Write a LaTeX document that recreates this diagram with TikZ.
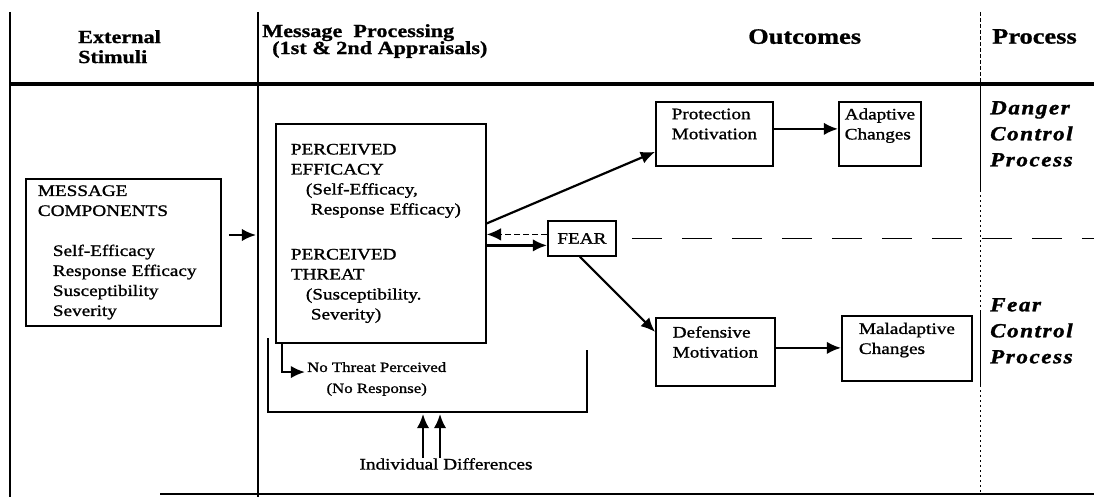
\documentclass[tikz,border=0pt]{standalone}
\usepackage{fontspec}
\setmainfont{Liberation Serif}[FakeStretch=1.2, UprightFeatures={FakeBold=1.2}, BoldFeatures={FakeBold=1}]
\newfontfamily\procfont{Liberation Serif}[FakeStretch=1.15, LetterSpace=8, BoldItalicFeatures={FakeBold=1.5}]
\usetikzlibrary{arrows.meta, positioning}

\begin{document}
\begin{tikzpicture}[x=1pt, y=-1pt, every node/.style={inner sep=0pt, align=left}]
    \tikzset{
      box/.style={draw, line width=1.8pt, anchor=north west, inner sep=5pt, font=\fontsize{16}{20}\selectfont},
      head/.style={anchor=north west, font=\fontsize{18.5}{20}\selectfont\bfseries},
      proc/.style={anchor=north west, font=\procfont\fontsize{20}{26}\selectfont\bfseries\itshape},
      arr/.style={line width=2.2pt, -{Latex[length=5mm, width=4.4mm]}},
      divider/.style={line width=1.4pt}
    }
    \useasboundingbox (0,0) rectangle (1094,497);

    % frame and column rules
    \draw[divider] (10,12) -- (10,497);
    \draw[divider] (258,12) -- (258,497);
    \draw[line width=3.2pt] (10,84) -- (1094,84);
    \draw[divider] (160,494) -- (1094,494);
    \draw[line width=1pt, dash pattern=on 4pt off 2pt] (980,12) -- (980,84);
    \draw[line width=1pt] (980,84) -- (980,190);
    \draw[line width=1pt, dash pattern=on 2pt off 3pt] (980,190) -- (980,310);
    \draw[line width=1pt] (980,310) -- (980,385);
    \draw[line width=1pt, dash pattern=on 2pt off 3pt] (980,385) -- (980,494);

    % column headings
    \node[head] (ext) at (78,30) {External\\Stimuli};
    \node[head, font=\fontsize{18.5}{17}\selectfont\bfseries] (mp) at (262,24) {Message\ \ Processing\\\hspace*{10pt}(1st \& 2nd Appraisals)};
    \node[head, font=\fontsize{22}{22}\selectfont\bfseries] (out) at (748,29) {Outcomes};
    \node[head, font=\fontsize{22}{22}\selectfont\bfseries] (prc) at (992,29) {Process};

    % boxes
    \node[box, text width=171pt, minimum height=147pt, inner xsep=12pt] (msg) at (25,178)
      {MESSAGE\\COMPONENTS\\[20pt]\hspace*{15pt}Self-Efficacy\\\hspace*{15pt}Response Efficacy\\\hspace*{15pt}Susceptibility\\\hspace*{15pt}Severity};
    \node[box, text width=180pt, minimum height=219pt, inner xsep=15pt] (perc) at (275,123)
      {PERCEIVED\\EFFICACY\\\hspace*{15pt}(Self-Efficacy,\\\hspace*{20pt}Response Efficacy)\\[25pt]PERCEIVED\\THREAT\\\hspace*{15pt}(Susceptibility.\\\hspace*{20pt}Severity)};
    \node[box, minimum width=68pt, minimum height=35pt, align=center] (fear) at (547,220) {FEAR};
    \node[box, minimum width=117pt, minimum height=64pt] (prot) at (655,101) {Protection\\Motivation\\\mbox{}};
    \node[box, minimum width=82pt, minimum height=64pt] (adapt) at (838,101) {Adaptive\\Changes\\\mbox{}};
    \node[box, minimum width=119pt, minimum height=68pt] (def) at (655,317) {Defensive\\Motivation\\\mbox{}};
    \node[box, minimum width=130pt, minimum height=65pt] (mal) at (841,315) {Maladaptive\\Changes\\\mbox{}};

    \node[proc] (dcp) at (990,101) {Danger\\Control\\Process};
    \node[proc] (fcp) at (990,298) {Fear\\Control\\Process};

    \node[font=\fontsize{14}{21}\selectfont, align=center, anchor=north west, inner sep=2pt] (nothreat) at (305,360) {No Threat Perceived\\(No Response)};
    \node[font=\fontsize{16}{20}\selectfont, anchor=north] (indiv) at (446,458) {Individual Differences};

    \coordinate (stimtip) at (256,235);
    \coordinate (brk) at (446,414);
    \coordinate (rightedge) at (1094,236);

    % connectors
    \draw[arr] (msg.east |- stimtip) ++(7,0) -- (stimtip);
    \draw[arr] ([yshift=10pt]perc.east) -- ([yshift=-18pt]prot.west);
    \draw[arr, line width=1.4pt, dash pattern=on 6pt off 3pt] ([yshift=4pt]fear.west) -- ([yshift=4pt]fear.west -| perc.east);
    \draw[arr] ([yshift=-7pt]fear.west -| perc.east) -- ([yshift=-7pt]fear.west);
    \draw[arr] ([xshift=-2pt]fear.south) -- ([yshift=20pt]def.west);
    \draw[arr] ([yshift=5pt]prot.east) -- ([yshift=5pt]prot.east -| adapt.west);
    \draw[arr] ([yshift=4pt]def.east) -- ([yshift=4pt]def.east -| mal.west);
    \draw[arr] ([xshift=7pt]perc.south west) |- ([yshift=7pt]nothreat.west);
    \draw[line width=1.6pt, dash pattern=on 30pt off 20pt] ([xshift=15pt]fear.east) -- (fear.east -| rightedge);
    \draw[divider] (268,338) -- (268,412) -- (587,412) -- (587,350);
    \foreach \dx in {-23,-6}
      \draw[arr] ([xshift=\dx pt]indiv.north) -- ([xshift=\dx pt]brk);
  \end{tikzpicture}
\end{document}
